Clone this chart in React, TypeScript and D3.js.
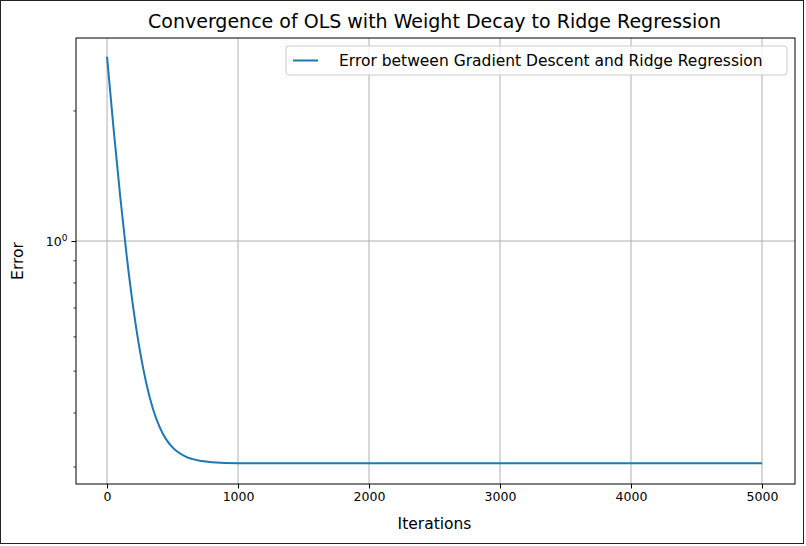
import { useEffect, useRef } from 'react';
import * as d3 from 'd3';

const iterations = [0, 50, 100, 150, 200, 250, 300, 350, 400, 450, 500, 600, 700, 800, 1000, 2000, 3000, 4000, 5000];
const errors = [2.67, 1.818, 1.273, 0.924, 0.701, 0.559, 0.468, 0.409, 0.372, 0.348, 0.333, 0.317, 0.3105, 0.3078, 0.306, 0.306, 0.306, 0.306, 0.306];
const xTicks = [0, 1000, 2000, 3000, 4000, 5000];
const minorTicks = [0.3, 0.4, 0.5, 0.6, 0.7, 0.8, 0.9, 2];

export default function App() {
  const svgRef = useRef<SVGSVGElement>(null);

  useEffect(() => {
    const svg = d3.select(svgRef.current);
    svg.selectAll('*').remove();
    const W = 806, H = 546;
    const margin = { top: 38, right: 11, bottom: 62, left: 76 };
    const innerW = W - margin.left - margin.right;
    const innerH = H - margin.top - margin.bottom;
    const font = 'DejaVu Sans, sans-serif';

    svg.append('rect').attr('x', 0.5).attr('y', 0.5).attr('width', W - 3).attr('height', H - 3)
      .attr('fill', '#fff').attr('stroke', '#222');

    const x = d3.scaleLinear().domain([-237, 5252]).range([0, innerW]);
    const y = d3.scaleLog().domain([0.274, 2.95]).range([innerH, 0]);

    const g = svg.append('g').attr('transform', `translate(${margin.left},${margin.top})`);

    // grid
    xTicks.forEach(t => {
      g.append('line').attr('x1', x(t)).attr('x2', x(t)).attr('y1', 0).attr('y2', innerH)
        .attr('stroke', '#b0b0b0').attr('stroke-width', 1);
    });
    g.append('line').attr('x1', 0).attr('x2', innerW).attr('y1', y(1)).attr('y2', y(1))
      .attr('stroke', '#b0b0b0').attr('stroke-width', 1);

    const line = d3.line<number>()
      .x((_, i) => x(iterations[i]))
      .y(d => y(d))
      .curve(d3.curveMonotoneX);
    g.append('path').datum(errors).attr('d', line).attr('fill', 'none')
      .attr('stroke', '#1f77b4').attr('stroke-width', 2);

    const xAxis = g.append('g').attr('transform', `translate(0,${innerH})`)
      .call(d3.axisBottom(x).tickValues(xTicks).tickSize(4.5).tickPadding(4).tickFormat(d3.format('d')));
    xAxis.select('.domain').remove();
    xAxis.selectAll('text').style('font-size', '12.5px').style('font-family', font).attr('fill', '#000');

    const yAxis = g.append('g')
      .call(d3.axisLeft(y).tickValues([1]).tickSize(4.5).tickPadding(4).tickFormat(() => ''));
    yAxis.select('.domain').remove();
    const lbl = yAxis.select('.tick text').style('font-size', '12.5px').style('font-family', font).attr('fill', '#000');
    lbl.append('tspan').text('10');
    lbl.append('tspan').text('0').attr('dy', '-0.5em').style('font-size', '9px');
    minorTicks.forEach(t => {
      g.append('line').attr('x1', -2.5).attr('x2', 0).attr('y1', y(t)).attr('y2', y(t)).attr('stroke', '#000').attr('stroke-width', 0.8);
    });

    g.append('rect').attr('width', innerW).attr('height', innerH).attr('fill', 'none').attr('stroke', '#000').attr('stroke-width', 1);

    svg.append('text').attr('x', margin.left + innerW / 2 - 1).attr('y', 28).attr('text-anchor', 'middle')
      .style('font-size', '19px').style('font-family', font).text('Convergence of OLS with Weight Decay to Ridge Regression');
    svg.append('text').attr('x', margin.left + innerW / 2 - 1).attr('y', 529).attr('text-anchor', 'middle')
      .style('font-size', '15.5px').style('font-family', font).text('Iterations');
    svg.append('text').attr('transform', `translate(23,${margin.top + innerH / 2}) rotate(-90)`).attr('text-anchor', 'middle')
      .style('font-size', '15.5px').style('font-family', font).text('Error');

    // legend
    const lg = svg.append('g').attr('transform', 'translate(286,46)');
    lg.append('rect').attr('width', 501).attr('height', 29).attr('rx', 3).attr('fill', '#fff')
      .attr('fill-opacity', 0.8).attr('stroke', '#ccc');
    lg.append('line').attr('x1', 7).attr('x2', 32).attr('y1', 14.5).attr('y2', 14.5).attr('stroke', '#1f77b4').attr('stroke-width', 2);
    lg.append('text').attr('x', 53).attr('y', 20).style('font-size', '15.5px').style('font-family', font)
      .text('Error between Gradient Descent and Ridge Regression');
  }, []);

  return <svg ref={svgRef} width={806} height={546} style={{ position: 'absolute', left: 0, top: 0 }} />;
}
